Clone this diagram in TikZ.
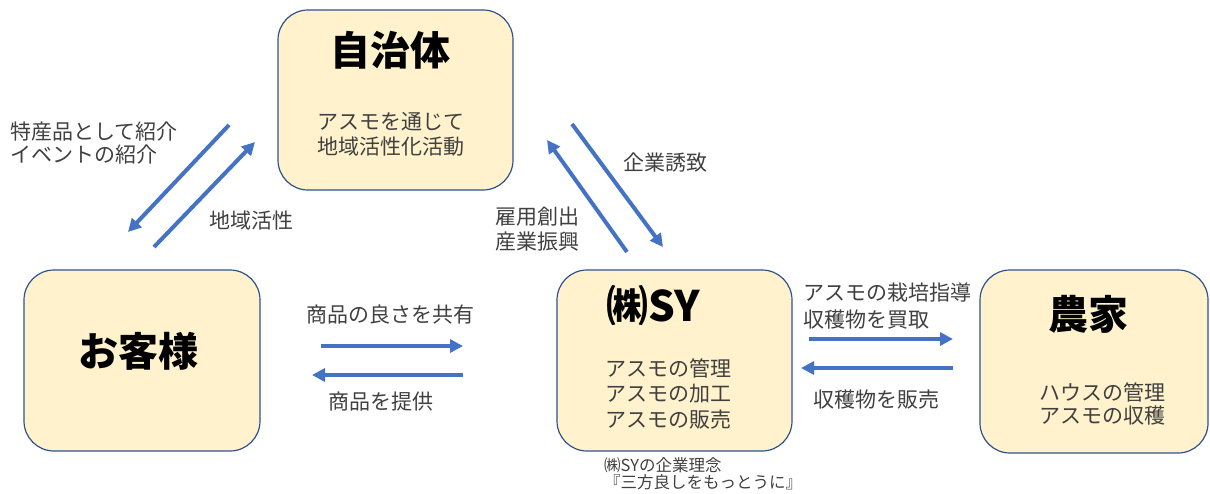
\documentclass[tikz,border=0pt]{standalone}
\usepackage{fontspec}
\setmainfont{Noto Sans CJK JP}
\usetikzlibrary{arrows.meta}
\definecolor{boxfill}{HTML}{FFF2CC}
\definecolor{boxline}{HTML}{2F528F}
\definecolor{arrowblue}{HTML}{4472C4}
\definecolor{txt}{HTML}{404040}
\begin{document}
\begin{tikzpicture}[x=1pt,y=-1pt,
  box/.style={draw=boxline,line width=1.2pt,fill=boxfill,rounded corners=30pt,inner sep=0pt},
  title/.style={inner sep=0pt,font=\fontsize{40}{44}\selectfont\bfseries,text=black},
  body/.style={inner sep=0pt,font=\fontsize{21}{25}\selectfont,text=txt},
  lbl/.style={inner sep=0pt,font=\fontsize{21}{25}\selectfont,text=txt},
  small/.style={inner sep=0pt,font=\fontsize{16.5}{17.5}\selectfont,text=txt},
  arr/.style={draw=arrowblue,line width=4pt,-{Triangle[length=13pt,width=13pt]}}]
\useasboundingbox (0,0) rectangle (1210,493);
% boxes
\node[box,minimum width=235pt,minimum height=180pt] (jichi) at (395.5,100) {};
\node[box,minimum width=236pt,minimum height=181pt] (kyaku) at (142,360.5) {};
\node[box,minimum width=235pt,minimum height=181pt] (sy) at (674.5,360.5) {};
\node[box,minimum width=228pt,minimum height=183pt] (nouka) at (1094,361.5) {};
% titles
\node[title] (t1) at (390,50) {自治体};
\node[title] (t2) at (138.5,351) {お客様};
\node[title,font=\fontsize{42}{44}\selectfont\bfseries] (t3) at (653,305.5) {㈱SY};
\node[title] (t4) at (1088,314.5) {農家};
% body texts
\node[body,align=center] (b1) at (390.5,134.5) {アスモを通じて\\地域活性化活動};
\node[body,align=left,anchor=west,font=\fontsize{21}{25.5}\selectfont] (b3) at (605,393.5) {アスモの管理\\アスモの加工\\アスモの販売};
\node[body,align=center,font=\fontsize{21}{23}\selectfont] (b4) at (1102.5,403.5) {ハウスの管理\\アスモの収穫};
\node[small,align=left,anchor=west] (motto) at (604,473.5) {㈱SYの企業理念\\『三方良しをもっとうに』};
% arrow end points
\coordinate (p1s) at (229,125); \coordinate (p1e) at (128,232);
\coordinate (p2s) at (154,247); \coordinate (p2e) at (255,142);
\coordinate (p3s) at (627,252); \coordinate (p3e) at (547,140);
\coordinate (p4s) at (572,124); \coordinate (p4e) at (663,247);
\coordinate (p5s) at (321,346); \coordinate (p5e) at (463,346);
\coordinate (p6s) at (463,375); \coordinate (p6e) at (312,375);
\coordinate (p7s) at (809,339); \coordinate (p7e) at (953,339);
\coordinate (p8s) at (953,368); \coordinate (p8e) at (801,368);
\draw[arr] (p1s) -- (p1e);
\draw[arr] (p2s) -- (p2e);
\draw[arr] (p3s) -- (p3e);
\draw[arr] (p4s) -- (p4e);
\draw[arr] (p5s) -- (p5e);
\draw[arr] (p6s) -- (p6e);
\draw[arr] (p7s) -- (p7e);
\draw[arr] (p8s) -- (p8e);
% labels
\node[lbl,align=left,anchor=west,font=\fontsize{21}{23}\selectfont] (l1) at (10,143.5) {特産品として紹介\\イベントの紹介};
\node[lbl] (l2) at (251,221) {地域活性};
\node[lbl] (l3) at (665,163) {企業誘致};
\node[lbl,align=left,anchor=west] (l4) at (495,229.5) {雇用創出\\産業振興};
\node[lbl] (l5) at (390,315) {商品の良さを共有};
\node[lbl] (l6) at (381,402) {商品を提供};
\node[lbl,align=left,anchor=west,font=\fontsize{21}{27}\selectfont] (l7) at (803,306.5) {アスモの栽培指導\\収穫物を買取};
\node[lbl] (l8) at (876,400) {収穫物を販売};
\end{tikzpicture}
\end{document}
